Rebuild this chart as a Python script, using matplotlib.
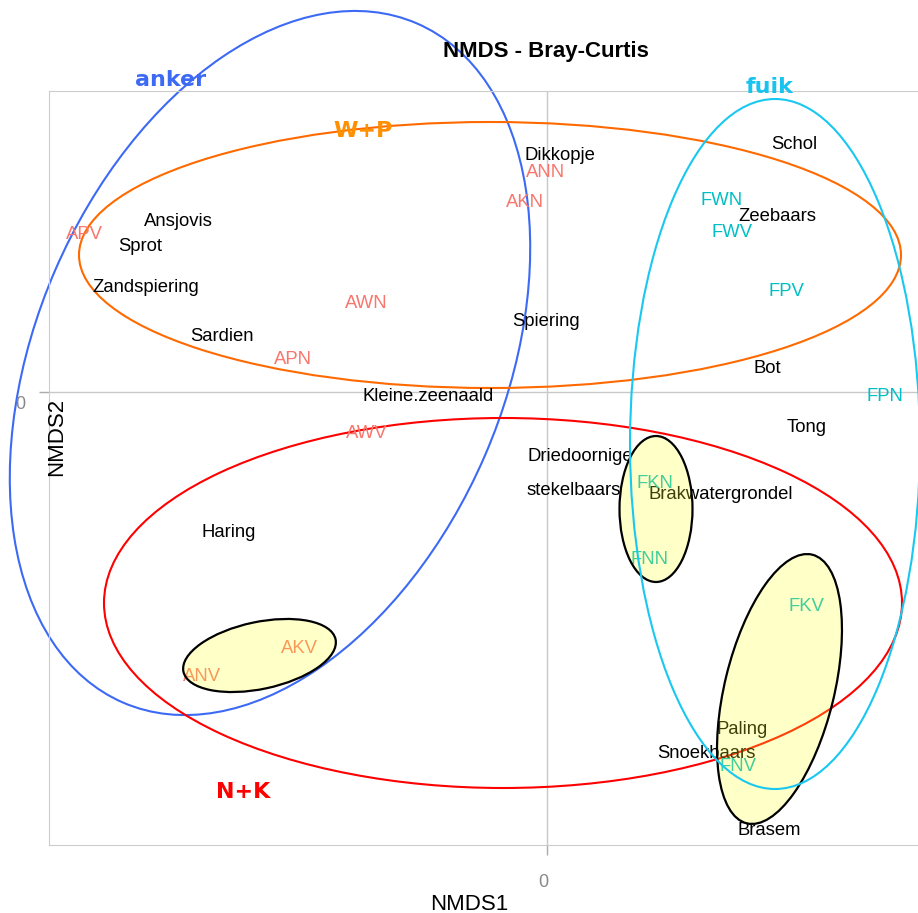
import matplotlib
matplotlib.use("Agg")
import matplotlib.pyplot as plt
from matplotlib.patches import Ellipse

# ---- DATA ----
species = ["Dikkopje", "Ansjovis", "Sprot", "Zandspiering", "Sardien",
           "Kleine.zeenaald", "Spiering", "Schol", "Zeebaars", "Bot", "Tong",
           "Driedoornige", "stekelbaars", "Brakwatergrondel", "Haring",
           "Paling", "Snoekbaars", "Brasem"]
species_x = [0.026, -0.738, -0.814, -0.802, -0.650, -0.238, -0.002, 0.494,
             0.460, 0.440, 0.520, 0.066, 0.054, 0.348, -0.636, 0.390, 0.318, 0.444]
species_y = [0.474, 0.342, 0.292, 0.210, 0.112, -0.008, 0.142, 0.496,
             0.352, 0.048, -0.070, -0.128, -0.196, -0.204, -0.280, -0.674, -0.722, -0.876]

samples = ["APV", "AWN", "APN", "AWV", "ANN", "AKN", "AKV", "ANV",
           "FWN", "FWV", "FPV", "FPN", "FKN", "FNN", "FKV", "FNV"]
samples_x = [-0.926, -0.362, -0.508, -0.360, -0.002, -0.044, -0.496, -0.690,
             0.350, 0.370, 0.478, 0.676, 0.216, 0.206, 0.518, 0.382]
samples_y = [0.316, 0.178, 0.066, -0.082, 0.440, 0.380, -0.512, -0.568,
             0.384, 0.320, 0.202, -0.008, -0.182, -0.334, -0.428, -0.748]

# groups: label position + ellipse (center, width, height, angle)
groups = ["anker", "W+P", "fuik", "N+K"]
group_lab_x = [-0.752, -0.368, 0.446, -0.608]
group_lab_y = [0.624, 0.522, 0.610, -0.800]
group_cx = [-0.554, -0.114, 0.456, -0.088]
group_cy = [0.058, 0.274, -0.104, -0.422]
group_w = [1.48, 1.644, 0.58, 1.596]
group_h = [0.936, 0.532, 1.38, 0.74]
group_angle = [66.6, 0.0, 0.0, 0.0]

# highlighted clusters (yellow)
hl_cx = [-0.575, 0.218, 0.465]
hl_cy = [-0.527, -0.234, -0.594]
hl_w = [0.311, 0.146, 0.553]
hl_h = [0.134, 0.292, 0.219]
hl_angle = [12.0, 0.0, 76.3]

# ---- STYLE ----
line_cols = ["#3D6AF5", "#FF6A00", "#19C8F0", "#FF0000"]
label_cols = ["#3D6AF5", "#FF9000", "#19C3F0", "#FF0000"]
sample_col = {"A": "#F8766D", "F": "#00BFC4"}
SANS = ["Liberation Sans", "DejaVu Sans"]

W, H = 918, 913
fig = plt.figure(figsize=(W / 100, H / 100), dpi=100)
ax = fig.add_axes([49 / W, (H - 845) / H, (W - 49) / W, (845 - 91) / H])
ax.set_xlim(-0.996, 0.742)
ax.set_ylim(-0.906, 0.602)

for s in ["left", "top", "bottom"]:
    ax.spines[s].set_color("#cccccc")
ax.spines["right"].set_visible(False)
ax.axhline(0, color="#c8c8c8", lw=1, zorder=0)
ax.axvline(0, color="#c8c8c8", lw=1, zorder=0)

ax.set_xticks([0])
ax.set_yticks([0])
ax.set_xticklabels([])
ax.set_yticklabels([])
ax.tick_params(length=7, color="#aaaaaa", width=1)

# tick labels
ax.annotate("0", xy=(0, 0), xycoords=("data", "axes fraction"),
            xytext=(-3, -27), textcoords="offset points", ha="center", va="center",
            color="#888888", fontsize=13, family=SANS)
ax.annotate("0", xy=(0, 0), xycoords=("axes fraction", "data"),
            xytext=(-21, -9), textcoords="offset points", ha="center", va="center",
            color="#888888", fontsize=13, family=SANS)

fig.text(469 / W, 1 - 904 / H, "NMDS1", ha="center", va="center", fontsize=16, family=SANS)
fig.text(57 / W, 1 - 437 / H, "NMDS2", ha="center", va="center", rotation=90,
         fontsize=16, family=SANS)
fig.text(546 / W, 1 - 52 / H, "NMDS - Bray-Curtis", ha="center", va="center",
         fontsize=16, fontweight="bold", family=SANS)

# species labels
for name, x, y in zip(species, species_x, species_y):
    ax.text(x, y, name, ha="center", va="center", fontsize=13.3, family=SANS,
            color="black", zorder=3, clip_on=False)

# sample labels
for name, x, y in zip(samples, samples_x, samples_y):
    ax.text(x, y, name, ha="center", va="center", fontsize=13.3, family=SANS,
            color=sample_col[name[0]], zorder=3, clip_on=False)

# group ellipses + labels
for i, g in enumerate(groups):
    z = 5 if g == "fuik" else 2
    e = Ellipse((group_cx[i], group_cy[i]), group_w[i], group_h[i], angle=group_angle[i],
                fill=False, edgecolor=line_cols[i], lw=1.5, zorder=z, clip_on=False)
    ax.add_patch(e)
    ax.text(group_lab_x[i], group_lab_y[i], g, ha="center", va="center", fontsize=16,
            fontweight="bold", family="DejaVu Sans", color=label_cols[i], zorder=6,
            clip_on=False)

# yellow highlight ellipses (drawn over the text)
for i in range(len(hl_cx)):
    e = Ellipse((hl_cx[i], hl_cy[i]), hl_w[i], hl_h[i], angle=hl_angle[i],
                facecolor=(1, 1, 0.14, 0.25), edgecolor="black", lw=1.6, zorder=4)
    ax.add_patch(e)

fig.savefig("out.png", dpi=100)
